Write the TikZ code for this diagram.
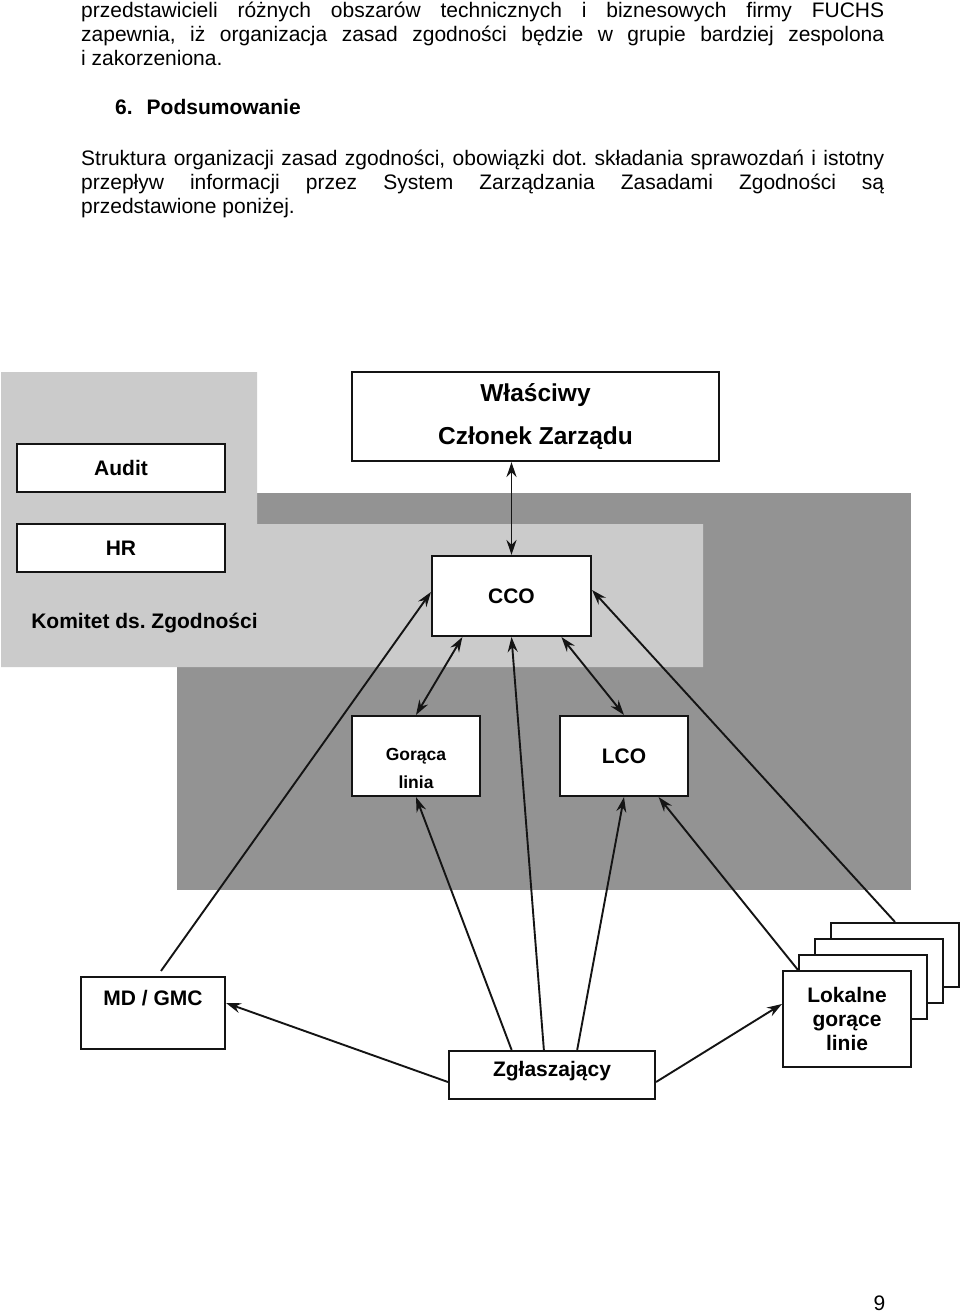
\documentclass[tikz,border=0pt]{standalone}
\usepackage{fontspec}
\setmainfont{Liberation Sans}
\usetikzlibrary{arrows.meta,calc}
\definecolor{lgray}{RGB}{203,203,203}
\definecolor{dgray}{RGB}{147,147,147}
\definecolor{ink}{RGB}{20,20,20}
\frenchspacing
\begin{document}
\frenchspacing
\begin{tikzpicture}[x=1pt,y=-1pt,
  box/.style={draw=ink,line width=2.1pt,fill=white,inner sep=0pt},
  lbl/.style={font=\fontsize{21}{24}\selectfont\bfseries,align=center,inner sep=0pt,text=black},
  body/.style={font=\fontsize{21}{24}\selectfont,anchor=base west,inner sep=0pt},
  conn/.style={draw=ink,line width=1.9pt},
  tip/.style={-{Stealth[length=15pt,width=10pt,inset=5pt]}},
  dtip/.style={{Stealth[length=15pt,width=10pt,inset=5pt]}-{Stealth[length=15pt,width=10pt,inset=5pt]}},
]
\useasboundingbox (0,0) rectangle (960,1314);
\fill[white] (0,0) rectangle (960,1314);

% text above the chart
\node[body] (t1) at (81,18) {\makebox[803pt][s]{przedstawicieli różnych obszarów technicznych i biznesowych firmy FUCHS}};
\node[body] (t2) at (81,42) {\makebox[803pt][s]{zapewnia, iż organizacja zasad zgodności będzie w grupie bardziej zespolona}};
\node[body] (t3) at (81,66) {i zakorzeniona.};
\node[body,font=\fontsize{21}{24}\selectfont\bfseries] (head) at (115,114) {\makebox[31.5pt][l]{6.}Podsumowanie};
\node[body] (p1) at (81,165) {\makebox[803pt][s]{Struktura organizacji zasad zgodności, obowiązki dot. składania sprawozdań i istotny}};
\node[body] (p2) at (81,189) {\makebox[803pt][s]{przepływ informacji przez System Zarządzania Zasadami Zgodności są}};
\node[body] (p3) at (81,213) {przedstawione poniżej.};

% background areas
\fill[dgray] (177,493) rectangle (911,890);
\fill[lgray] (1,372) -- (257,372) -- (257,524) -- (703,524) -- (703,667) -- (1,667) -- cycle;

% boxes
\node[box,minimum width=208pt,minimum height=48pt,lbl] (audit) at (121,468) {Audit};
\node[box,minimum width=208pt,minimum height=48pt,lbl] (hr) at (121,548) {HR};
\node[lbl] (komitet) at (144.5,623) {Komitet ds. Zgodności};
\node[box,minimum width=367pt,minimum height=89pt,lbl,font=\fontsize{24.5}{43}\selectfont\bfseries] (board) at (535.5,416.5) {Właściwy\\Członek Zarządu};
\node[box,minimum width=159pt,minimum height=80pt,lbl] (cco) at (511.5,596) {CCO};
\node[box,minimum width=128pt,minimum height=80pt] (gor) at (416,756) {};
\node[lbl,font=\fontsize{17.5}{28}\selectfont\bfseries] (gortext) at (416,768) {Gorąca\\linia};
\node[box,minimum width=128pt,minimum height=80pt,lbl] (lco) at (624,756) {LCO};
\node[box,minimum width=144pt,minimum height=72pt] (md) at (153,1013) {};
\node[lbl] (mdtext) at (153,998) {MD / GMC};
\node[box,minimum width=206pt,minimum height=48pt] (zgl) at (552,1075) {};
\node[lbl] (zgltext) at (552,1071) {Zgłaszający};
\node[box,minimum width=128pt,minimum height=64pt] (lok4) at (895,955) {};
\node[box,minimum width=128pt,minimum height=64pt] (lok3) at (879,971) {};
\node[box,minimum width=128pt,minimum height=64pt] (lok2) at (863,987) {};
\node[box,minimum width=128pt,minimum height=96pt,lbl] (lok) at (847,1019) {Lokalne\\gorące\\linie};

% connectors
\draw[conn,dtip] (board.south -| cco.north) -- (cco.north);
\draw[conn,dtip] (gor.north) -- ($(cco.south west)!0.195!(cco.south east)$);
\draw[conn,dtip] (lco.north) -- ($(cco.south west)!0.81!(cco.south east)$);
\draw[conn,tip] ($(zgl.north west)!0.461!(zgl.north east)$) -- (cco.south);
\draw[conn,tip] ($(zgl.north west)!0.306!(zgl.north east)$) -- (gor.south);
\draw[conn,tip] ($(zgl.north west)!0.621!(zgl.north east)$) -- (lco.south);
\draw[conn,tip] (lok.north -| lok2.west) -- ($(lco.south west)!0.766!(lco.south east)$);
\draw[conn,tip] ($(md.north)+(8,-5)$) -- ($(cco.west)+(0,-4)$);
\draw[conn,tip] (lok4.north) -- ($(cco.east)+(0,-6)$);
\draw[conn,tip] ($(zgl.west)+(0,7)$) -- ($(md.east)+(0,-10)$);
\draw[conn,tip] ($(zgl.east)+(0,7)$) -- ($(lok.west)+(0,-15)$);

% page number
\node[font=\fontsize{21}{24}\selectfont,inner sep=0pt] (pg) at (879.5,1303.5) {9};
\end{tikzpicture}
\end{document}
